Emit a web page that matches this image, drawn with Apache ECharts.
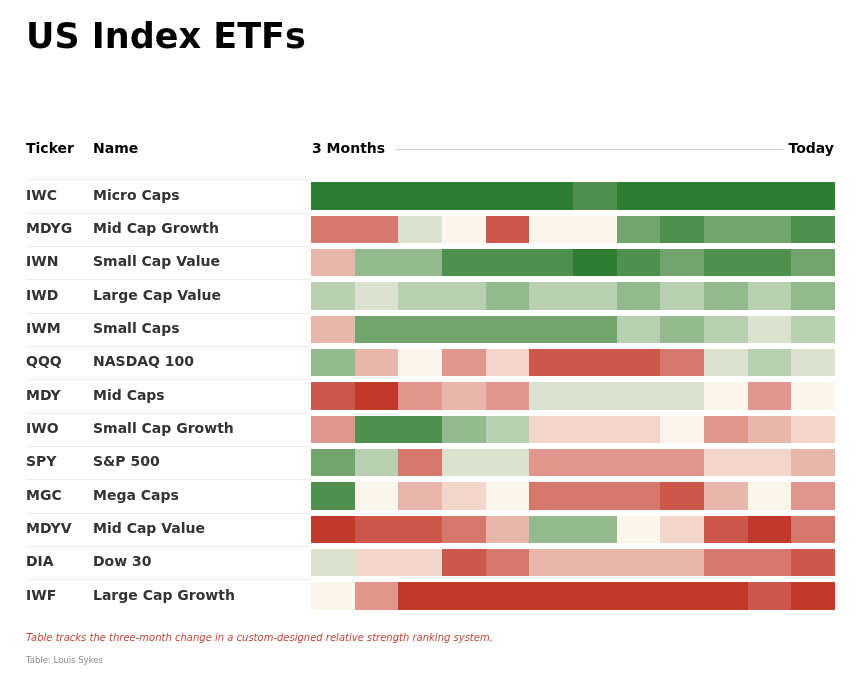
<!DOCTYPE html>
<html><head><meta charset="utf-8">
<script src="https://cdn.jsdelivr.net/npm/echarts@6/dist/echarts.min.js"></script>
<style>html,body{margin:0;padding:0;background:#fff}#c{width:860px;height:674px}</style>
</head><body><div id="c"></div>
<script>
const tickers = ['IWC','MDYG','IWN','IWD','IWM','QQQ','MDY','IWO','SPY','MGC','MDYV','DIA','IWF'];
const names = ['Micro Caps','Mid Cap Growth','Small Cap Value','Large Cap Value','Small Caps','NASDAQ 100','Mid Caps','Small Cap Growth','S&P 500','Mega Caps','Mid Cap Value','Dow 30','Large Cap Growth'];
const periods = ['1','2','3','4','5','6','7','8','9','10','11','12'];
// ranking change levels (-6 strong decline ... +6 strong rise)
const IWC  = [6,6,6,6,6,6,5,6,6,6,6,6];
const MDYG = [-4,-4,1,0,-5,0,0,4,5,4,4,5];
const IWN  = [-2,3,3,5,5,5,6,5,4,5,5,4];
const IWD  = [2,1,2,2,3,2,2,3,2,3,2,3];
const IWM  = [-2,4,4,4,4,4,4,2,3,2,1,2];
const QQQ  = [3,-2,0,-3,-1,-5,-5,-5,-4,1,2,1];
const MDY  = [-5,-6,-3,-2,-3,1,1,1,1,0,-3,0];
const IWO  = [-3,5,5,3,2,-1,-1,-1,0,-3,-2,-1];
const SPY  = [4,2,-4,1,1,-3,-3,-3,-3,-1,-1,-2];
const MGC  = [5,0,-2,-1,0,-4,-4,-4,-5,-2,0,-3];
const MDYV = [-6,-5,-5,-4,-2,3,3,0,-1,-5,-6,-4];
const DIA  = [1,-1,-1,-5,-4,-2,-2,-2,-2,-4,-4,-5];
const IWF  = [0,-3,-6,-6,-6,-6,-6,-6,-6,-6,-5,-6];
const rows = [IWC,MDYG,IWN,IWD,IWM,QQQ,MDY,IWO,SPY,MGC,MDYV,DIA,IWF];

const palette = {
  '-6':'#c0392b','-5':'#cb584b','-4':'#d6776c','-3':'#e0968c','-2':'#e9b6ab','-1':'#f2d6cc',
  '0':'#fbf6ec','1':'#dbe3d0','2':'#b8d0b1','3':'#95b98e','4':'#72a56d','5':'#50904e','6':'#2e7d32'
};

const data = [];
rows.forEach((r, yi) => r.forEach((v, xi) => data.push([xi, yi, v])));

const chart = echarts.init(document.getElementById('c'));
const FONT = 'DejaVu Sans';
chart.setOption({
  backgroundColor: '#fff',
  animation: false,
  title: {
    text: 'US Index ETFs', left: 21, top: 16,
    textStyle: { fontFamily: FONT, fontWeight: 'bold', fontSize: 35, color: '#000' }
  },
  grid: { left: 311, right: 25, top: 179.5, height: 433.3 },
  xAxis: { type: 'category', data: periods, show: false },
  yAxis: {
    type: 'category', data: tickers, inverse: true,
    axisLine: { show: false }, axisTick: { show: false }, splitLine: { show: false },
    axisLabel: {
      margin: 0,
      formatter: (v, i) => '{t|' + v + '}{n|' + names[i] + '}',
      rich: {
        t: { width: 67, align: 'left', fontFamily: FONT, fontWeight: 'bold', fontSize: 14, color: '#333' },
        n: { width: 218, align: 'left', fontFamily: FONT, fontWeight: 'bold', fontSize: 14, color: '#333' }
      }
    }
  },
  graphic: [
    { type: 'text', left: 26, top: 142, style: { text: 'Ticker', font: 'bold 14px "DejaVu Sans"', fill: '#000' } },
    { type: 'text', left: 93, top: 142, style: { text: 'Name', font: 'bold 14px "DejaVu Sans"', fill: '#000' } },
    { type: 'text', left: 312, top: 142, style: { text: '3 Months', font: 'bold 14px "DejaVu Sans"', fill: '#000' } },
    { type: 'text', right: 26, top: 142, style: { text: 'Today', font: 'bold 14px "DejaVu Sans"', fill: '#000' } },
    { type: 'line', shape: { x1: 396, y1: 149.5, x2: 783, y2: 149.5 }, style: { stroke: '#cccccc', lineWidth: 1 } },
    { type: 'text', left: 26, top: 633, style: { text: 'Table tracks the three-month change in a custom-designed relative strength ranking system.', font: 'italic 10px "DejaVu Sans"', fill: '#c0463a' } },
    { type: 'text', left: 26, top: 656, style: { text: 'Table: Louis Sykes', font: '8.5px "DejaVu Sans"', fill: '#888' } }
  ],
  series: [{
    type: 'custom',
    clip: false,
    data: data,
    encode: { x: 0, y: 1 },
    renderItem: function (params, api) {
      const xi = api.value(0), yi = api.value(1), v = api.value(2);
      const c = api.coord([xi, yi]);
      const s = api.size([1, 1]);
      const gap = 6;
      const x0 = Math.round(c[0] - s[0] / 2), x1 = Math.round(c[0] + s[0] / 2);
      const y0 = Math.round(c[1] - s[1] / 2 + gap / 2), y1 = Math.round(c[1] + s[1] / 2 - gap / 2);
      const children = [{
        type: 'rect',
        shape: { x: x0, y: y0, width: x1 - x0, height: y1 - y0 },
        style: { fill: palette[String(v)] }
      }];
      if (xi === 0) {
        const yTop = Math.round(c[1] - s[1] / 2) + 0.5;
        children.push({
          type: 'line',
          shape: { x1: 26, y1: yTop, x2: x0, y2: yTop },
          style: { stroke: '#ececec', lineWidth: 1 }
        });
      }
      return { type: 'group', children: children };
    }
  }]
});
</script></body></html>
